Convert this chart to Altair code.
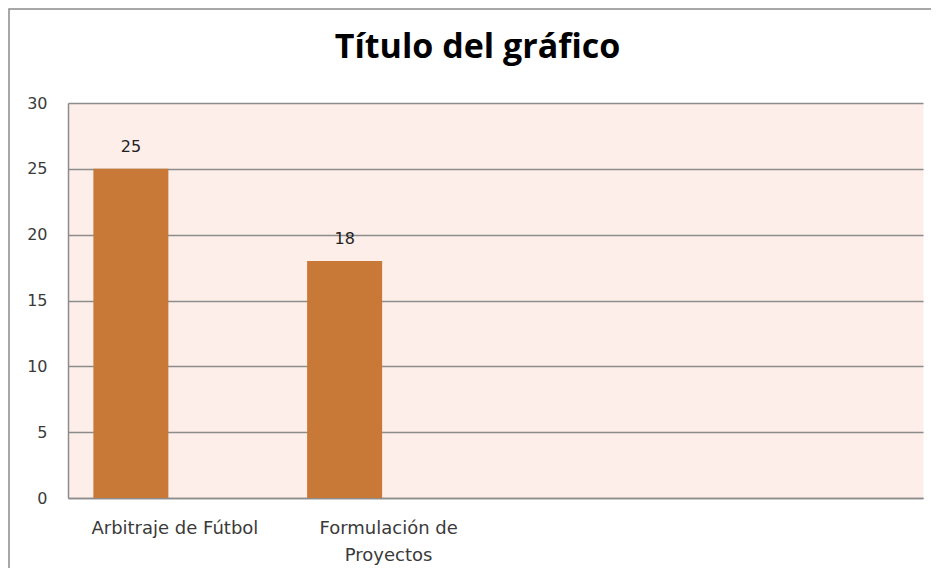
import altair as alt
import pandas as pd

# Data
categorias = ["Arbitraje de Fútbol", "Formulación de\nProyectos", " ", "  "]
valores = [25, 18, None, None]
ticks_y = [0, 5, 10, 15, 20, 25, 30]

df = pd.DataFrame({"categoria": categorias, "valor": valores})

W, H = 855, 395
LABEL_FONT = "DejaVu Sans"
GRAY = "#8c8c8c"

x_enc = alt.X(
    "categoria:N",
    sort=categorias,
    scale=alt.Scale(domain=categorias, paddingInner=0, paddingOuter=0),
    axis=alt.Axis(
        title=None,
        labelAngle=0,
        ticks=False,
        labelPadding=21,
        labelFont=LABEL_FONT,
        labelFontSize=18,
        labelColor="#3a3a3a",
        labelLineHeight=27,
        labelBaseline="top",
        labelExpr="split(datum.value, '\\n')",
        domainColor=GRAY,
        domainWidth=1.5,
        grid=False,
    ),
)
y_enc = alt.Y(
    "valor:Q",
    scale=alt.Scale(domain=[0, 30], nice=False),
    axis=alt.Axis(
        title=None,
        values=ticks_y,
        ticks=False,
        labelPadding=21,
        labelFont=LABEL_FONT,
        labelFontSize=16,
        labelColor="#3a3a3a",
        domainColor=GRAY,
        domainWidth=1.5,
        grid=True,
        gridColor=GRAY,
        gridWidth=1.5,
    ),
)

base = alt.Chart(df).transform_filter("isValid(datum.valor)").encode(x=x_enc, y=y_enc)

bars = base.mark_bar(width=75, xOffset=-44, color="#C87937")
labels = base.mark_text(
    xOffset=-44, dy=-17, baseline="alphabetic", font=LABEL_FONT, fontSize=16, color="#222222"
).encode(text=alt.Text("valor:Q", format="d"))

frame = alt.Chart(alt.Data(values=[{}])).mark_rect(
    filled=False, stroke="#8c8c8c", strokeWidth=1.5
).encode(
    x=alt.value(-59),
    x2=alt.value(W + 40),
    y=alt.value(-94),
    y2=alt.value(H + 200),
)

chart = alt.layer(frame, bars, labels).properties(
    width=W,
    height=H,
    title=alt.TitleParams(
        "Título del gráfico",
        font="Open Sans",
        fontSize=34,
        fontWeight="bold",
        color="#000000",
        anchor="middle",
        frame="group",
        dx=-18,
        offset=-84,
        baseline="alphabetic",
    ),
    autosize=alt.AutoSizeParams(type="none"),
    padding={"left": 60, "top": 95, "right": 8, "bottom": 70},
    background="white",
).configure_view(fill="#FDEEE9", stroke="transparent")

chart.save("out.html", embed_options={"renderer": "svg", "actions": False})
